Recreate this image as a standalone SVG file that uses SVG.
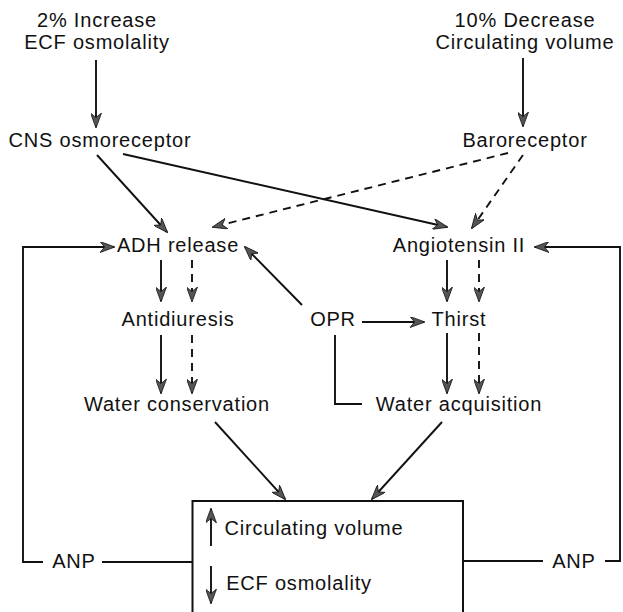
<svg xmlns="http://www.w3.org/2000/svg" width="623" height="612" viewBox="0 0 623 612">
<defs>
<style>
text{font-family:"Liberation Sans",Arial,sans-serif;font-size:20px;fill:#111;text-anchor:middle;letter-spacing:0.8px}
.ln{stroke:#111;stroke-width:1.9;fill:none}
.ds{stroke:#111;stroke-width:1.9;fill:none;stroke-dasharray:8 6}
.ar{marker-end:url(#ah)}
</style>
<marker id="ah" viewBox="0 0 15 11" refX="14" refY="5.5" markerWidth="15" markerHeight="11" markerUnits="userSpaceOnUse" orient="auto">
<path d="M0,0 L15,5.5 L0,11 L4.5,5.5 Z" fill="#555" stroke="#111" stroke-width="0.8"/>
</marker>
</defs>
<rect width="623" height="612" fill="#fff"/>
<g id="n-increase"><text x="97" y="27">2% Increase</text><text x="97" y="49">ECF osmolality</text></g>
<g id="n-decrease"><text x="525" y="27">10% Decrease</text><text x="525" y="49">Circulating volume</text></g>
<g id="n-cns"><text x="100" y="147">CNS osmoreceptor</text></g>
<g id="n-baro"><text x="525" y="147">Baroreceptor</text></g>
<g id="n-adh"><text x="178" y="252">ADH release</text></g>
<g id="n-ang"><text x="459" y="252">Angiotensin II</text></g>
<g id="n-anti"><text x="178" y="326">Antidiuresis</text></g>
<g id="n-opr"><text x="333" y="326">OPR</text></g>
<g id="n-thirst"><text x="459" y="326">Thirst</text></g>
<g id="n-wcons"><text x="177" y="411">Water conservation</text></g>
<g id="n-wacq"><text x="459" y="411">Water acquisition</text></g>
<g id="n-anp-l"><text x="74" y="568">ANP</text></g>
<g id="n-anp-r"><text x="574" y="568">ANP</text></g>
<g id="n-box">
<rect x="192.5" y="501" width="270.5" height="130" fill="none" stroke="#111" stroke-width="2"/>
<text x="314" y="535">Circulating volume</text>
<text x="299" y="590">ECF osmolality</text>
<line class="ln ar" x1="211" y1="546" x2="211" y2="509"/>
<line class="ln ar" x1="211" y1="566" x2="211" y2="603"/>
</g>
<g id="connectors">
<line class="ln ar" x1="96" y1="60" x2="96" y2="127"/>
<line class="ln ar" x1="523" y1="58" x2="523" y2="126"/>
<line class="ln ar" x1="97" y1="155" x2="167" y2="232"/>
<line class="ln ar" x1="123" y1="154" x2="447" y2="227"/>
<line class="ds ar" x1="508" y1="153" x2="213" y2="227"/>
<line class="ds ar" x1="523" y1="155" x2="472" y2="228"/>
<line class="ln ar" x1="161" y1="260" x2="161" y2="301"/>
<line class="ds ar" x1="192" y1="260" x2="192" y2="301"/>
<line class="ln ar" x1="161" y1="335" x2="161" y2="393"/>
<line class="ds ar" x1="192" y1="335" x2="192" y2="393"/>
<line class="ln ar" x1="447" y1="260" x2="447" y2="301"/>
<line class="ds ar" x1="479" y1="260" x2="479" y2="301"/>
<line class="ln ar" x1="447" y1="333" x2="447" y2="393"/>
<line class="ds ar" x1="479" y1="333" x2="479" y2="393"/>
<line class="ln ar" x1="302" y1="305" x2="245" y2="247"/>
<line class="ln ar" x1="362" y1="322" x2="424" y2="322"/>
<polyline class="ln" points="335,335 335,404 362,404"/>
<line class="ln ar" x1="215" y1="422" x2="285" y2="499"/>
<line class="ln ar" x1="442" y1="422" x2="372" y2="499"/>
<line class="ln" x1="102" y1="562" x2="192.5" y2="562"/>
<polyline class="ln ar" points="43,562 23,562 23,247 114,247"/>
<line class="ln" x1="463" y1="561" x2="543" y2="561"/>
<polyline class="ln ar" points="605,561 620,561 620,247 535,247"/>
</g>
</svg>
